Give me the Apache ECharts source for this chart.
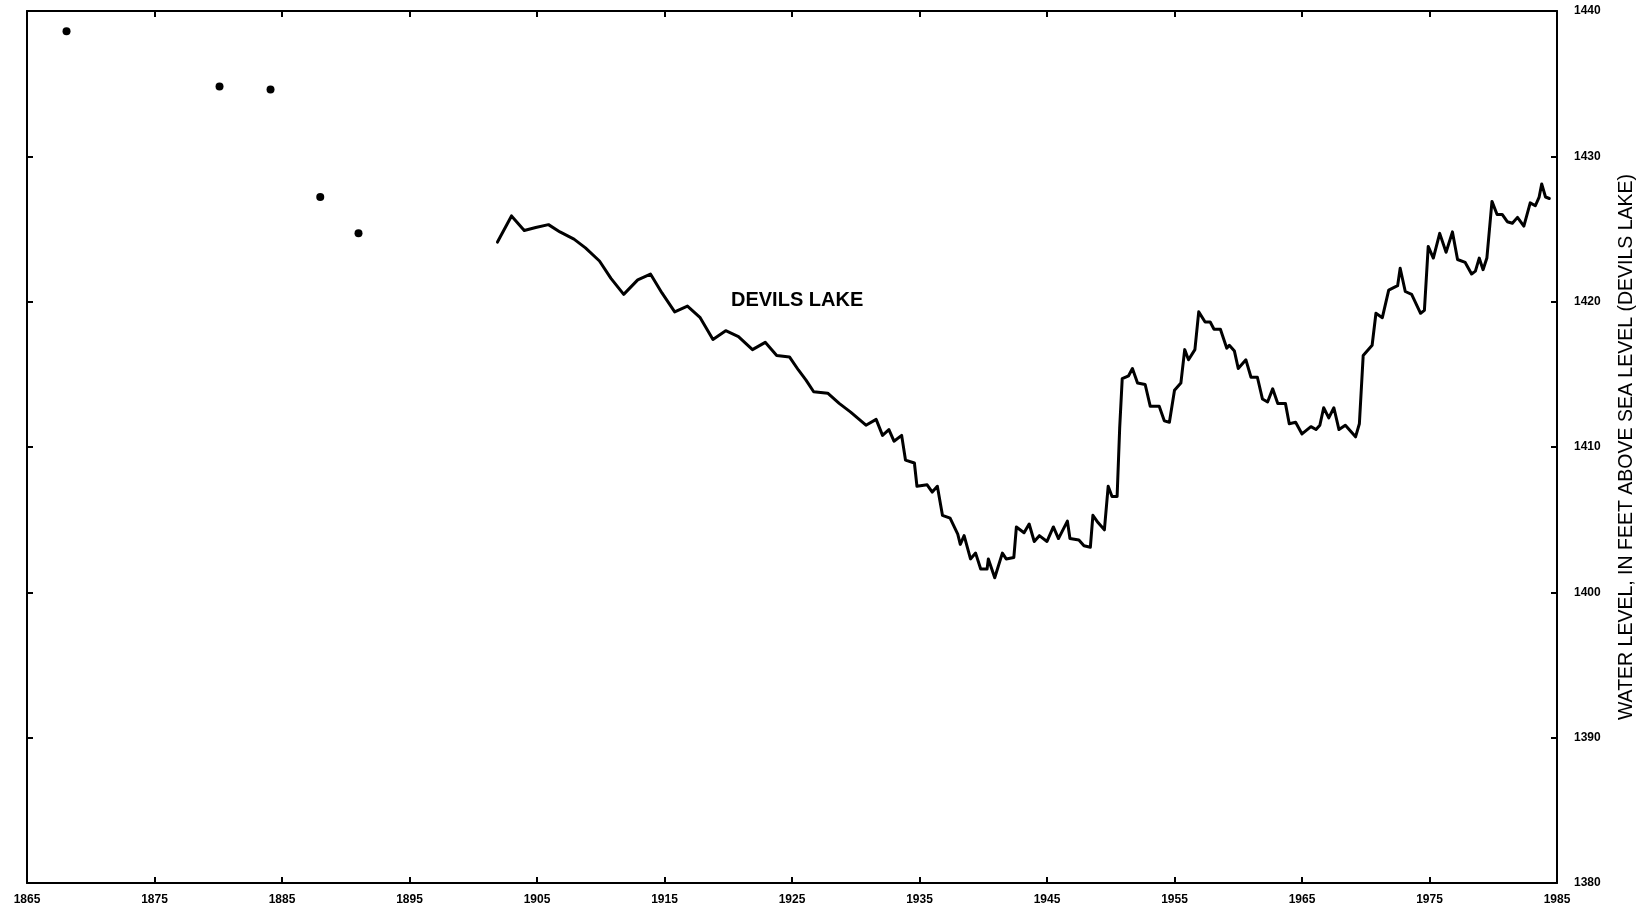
<!DOCTYPE html>
<html>
<head>
<meta charset="utf-8">
<script src="https://cdn.jsdelivr.net/npm/echarts@6/dist/echarts.min.js"></script>
<style>
html,body{margin:0;padding:0;background:#fff;}
#chart{width:1647px;height:912px;}
</style>
</head>
<body>
<div id="chart"></div>
<script>
// x-axis tick labels (years)
const xTickYears = [1865, 1875, 1885, 1895, 1905, 1915, 1925, 1935, 1945, 1955, 1965, 1975, 1985];
// y-axis ticks (feet above sea level)
const yTickLevels = [1380, 1390, 1400, 1410, 1420, 1430, 1440];

// Early isolated observations (dots)
const dotYears  = [1868.1, 1880.1, 1884.1, 1888.0, 1891.0];
const dotLevels = [1438.6, 1434.8, 1434.6, 1427.2, 1424.7];

// Continuous record (line)
const lineYears = [
  1901.9,1903.0,1904.0,1904.9,1905.9,1906.8,1907.9,1908.8,1909.9,1910.8,
  1911.8,1912.9,1913.9,1914.8,1915.8,1916.8,1917.8,1918.8,1919.8,1920.8,
  1921.9,1922.9,1923.8,1924.8,1925.5,1926.1,1926.7,1927.8,1928.7,1929.6,
  1930.8,1931.6,1932.1,1932.6,1933.0,1933.6,1933.9,1934.6,1934.8,1935.6,
  1936.0,1936.4,1936.8,1937.4,1938.0,1938.2,1938.5,1939.0,1939.4,1939.8,
  1940.3,1940.4,1940.9,1941.5,1941.8,1942.4,1942.6,1943.2,1943.6,1944.0,
  1944.4,1945.0,1945.5,1945.9,1946.6,1946.8,1947.5,1947.9,1948.4,1948.6,
  1949.0,1949.5,1949.8,1950.1,1950.5,1950.7,1950.9,1951.4,1951.7,1952.1,
  1952.7,1953.1,1953.8,1954.2,1954.6,1955.0,1955.5,1955.8,1956.1,1956.6,
  1956.9,1957.4,1957.8,1958.1,1958.6,1959.1,1959.3,1959.7,1960.0,1960.6,
  1961.0,1961.5,1961.9,1962.3,1962.7,1963.1,1963.7,1964.0,1964.5,1965.0,
  1965.7,1966.1,1966.4,1966.7,1967.1,1967.5,1967.9,1968.4,1969.2,1969.5,
  1969.8,1970.5,1970.8,1971.3,1971.8,1972.5,1972.7,1973.1,1973.6,1974.3,
  1974.6,1974.9,1975.3,1975.8,1976.3,1976.8,1977.2,1977.8,1978.3,1978.6,
  1978.9,1979.2,1979.5,1979.9,1980.3,1980.7,1981.1,1981.5,1981.9,1982.4,
  1982.9,1983.3,1983.6,1983.8,1984.1,1984.4
];
const lineLevels = [
  1424.1,1425.9,1424.9,1425.1,1425.3,1424.8,1424.3,1423.7,1422.8,1421.6,
  1420.5,1421.5,1421.9,1420.6,1419.3,1419.7,1418.9,1417.4,1418.0,1417.6,
  1416.7,1417.2,1416.3,1416.2,1415.3,1414.6,1413.8,1413.7,1413.0,1412.4,
  1411.5,1411.9,1410.8,1411.2,1410.4,1410.8,1409.1,1408.9,1407.3,1407.4,
  1406.9,1407.3,1405.3,1405.1,1404.0,1403.3,1403.9,1402.3,1402.7,1401.6,
  1401.6,1402.3,1401.0,1402.7,1402.3,1402.4,1404.5,1404.1,1404.7,1403.5,
  1403.9,1403.5,1404.5,1403.7,1404.9,1403.7,1403.6,1403.2,1403.1,1405.3,
  1404.8,1404.3,1407.3,1406.6,1406.6,1411.3,1414.7,1414.9,1415.4,1414.4,
  1414.3,1412.8,1412.8,1411.8,1411.7,1413.9,1414.4,1416.7,1416.0,1416.7,
  1419.3,1418.6,1418.6,1418.1,1418.1,1416.8,1417.0,1416.6,1415.4,1416.0,
  1414.8,1414.8,1413.3,1413.1,1414.0,1413.0,1413.0,1411.6,1411.7,1410.9,
  1411.4,1411.2,1411.5,1412.7,1412.0,1412.7,1411.2,1411.5,1410.7,1411.6,
  1416.3,1417.0,1419.2,1418.9,1420.8,1421.1,1422.3,1420.7,1420.5,1419.2,
  1419.4,1423.8,1423.0,1424.7,1423.4,1424.8,1422.9,1422.7,1421.9,1422.1,
  1423.0,1422.2,1423.0,1426.9,1426.0,1426.0,1425.5,1425.4,1425.8,1425.2,
  1426.8,1426.6,1427.2,1428.1,1427.2,1427.1
];

// Annotation
const lakeLabel = 'DEVILS LAKE';
const lakeLabelAt = [1925.4, 1420.1];
const yAxisTitle = 'WATER LEVEL, IN FEET ABOVE SEA LEVEL (DEVILS LAKE)';

const lineData = lineYears.map((y, i) => [y, lineLevels[i]]);
const dotData = dotYears.map((y, i) => [y, dotLevels[i]]);

const tickFont = {
  color: '#000', fontSize: 12, fontWeight: 'bold',
  fontFamily: "'Liberation Sans Narrow','Liberation Sans',Arial,sans-serif"
};
const axisLineStyle = { show: true, lineStyle: { color: '#000', width: 2 } };
const tickStyle = { show: true, inside: true, length: 6, lineStyle: { color: '#000', width: 2 } };

const xMin = xTickYears[0], xMax = xTickYears[xTickYears.length - 1];
const yMin = yTickLevels[0], yMax = yTickLevels[yTickLevels.length - 1];

const chart = echarts.init(document.getElementById('chart'), null, { renderer: 'canvas' });
chart.setOption({
  backgroundColor: '#fff',
  animation: false,
  grid: { left: 27, right: 90, top: 11, bottom: 29, containLabel: false },
  xAxis: [
    {
      type: 'value', position: 'bottom', min: xMin, max: xMax,
      axisLine: axisLineStyle,
      axisTick: Object.assign({}, tickStyle, { customValues: xTickYears }),
      axisLabel: Object.assign({}, tickFont, { margin: 11, customValues: xTickYears, formatter: v => String(v) }),
      splitLine: { show: false }
    },
    {
      type: 'value', position: 'top', min: xMin, max: xMax,
      axisLine: axisLineStyle,
      axisTick: Object.assign({}, tickStyle, { customValues: xTickYears }),
      axisLabel: { show: false },
      splitLine: { show: false }
    }
  ],
  yAxis: [
    {
      type: 'value', position: 'right', min: yMin, max: yMax, interval: 10,
      axisLine: axisLineStyle,
      axisTick: tickStyle,
      axisLabel: Object.assign({}, tickFont, { margin: 17, formatter: v => String(v) }),
      splitLine: { show: false },
      name: yAxisTitle,
      nameLocation: 'middle',
      nameRotate: 90,
      nameGap: 60,
      nameTextStyle: { color: '#000', fontSize: 19.5, fontFamily: "'Liberation Sans',Arial,sans-serif" }
    },
    {
      type: 'value', position: 'left', min: yMin, max: yMax, interval: 10,
      axisLine: axisLineStyle,
      axisTick: tickStyle,
      axisLabel: { show: false },
      splitLine: { show: false }
    }
  ],
  series: [
    {
      name: 'Devils Lake record',
      type: 'line',
      xAxisIndex: 0, yAxisIndex: 0,
      data: lineData,
      showSymbol: false,
      symbol: 'none',
      lineStyle: { color: '#000', width: 3, join: 'round', cap: 'round' },
      silent: true
    },
    {
      name: 'Early observations',
      type: 'scatter',
      xAxisIndex: 0, yAxisIndex: 0,
      data: dotData,
      symbol: 'circle',
      symbolSize: 8,
      itemStyle: { color: '#000', opacity: 1 },
      silent: true
    },
    {
      name: 'label',
      type: 'scatter',
      xAxisIndex: 0, yAxisIndex: 0,
      data: [lakeLabelAt],
      symbolSize: 0,
      silent: true,
      itemStyle: { color: '#000', opacity: 1 },
      label: {
        show: true, position: 'inside', formatter: lakeLabel,
        color: '#000', opacity: 1, fontSize: 20, fontWeight: 'bold',
        fontFamily: "'Liberation Sans Narrow','Liberation Sans',Arial,sans-serif"
      }
    }
  ]
});
</script>
</body>
</html>
